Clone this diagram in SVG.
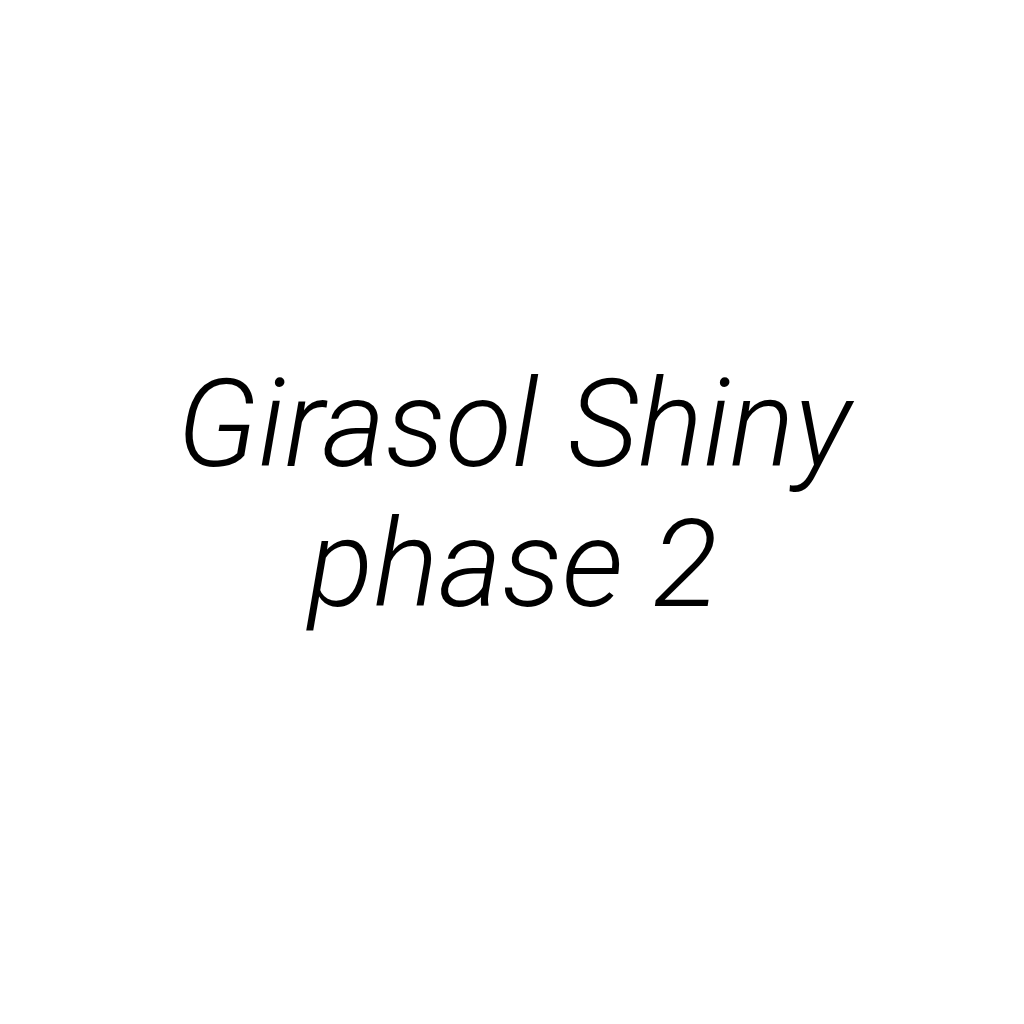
<svg xmlns="http://www.w3.org/2000/svg" width="1024" height="1024" viewBox="0 0 1024 1024">
<style>
.t{font-family:Roboto,"Liberation Sans",sans-serif;font-style:italic;font-weight:300;font-size:122px;fill:#000;text-anchor:middle}
</style>
<rect width="1024" height="1024" fill="#fff"/>
<g id="title">
<text class="t" x="514" y="466">Girasol Shiny</text>
<text class="t" x="513" y="606">phase 2</text>
</g>
</svg>
